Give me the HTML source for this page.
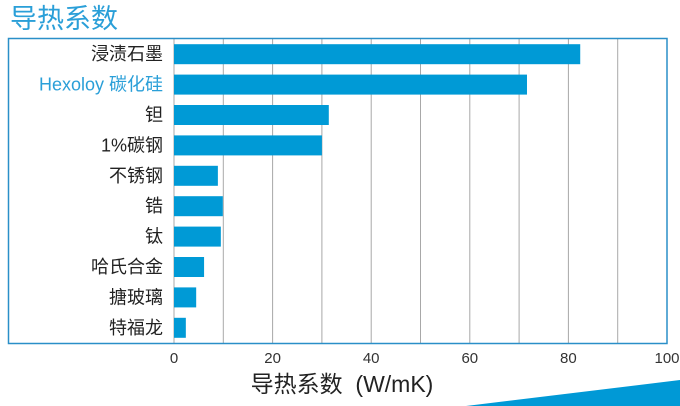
<!DOCTYPE html>
<html><head><meta charset="utf-8"><style>
html,body{margin:0;padding:0;background:#fff;width:680px;height:406px;overflow:hidden}
text{font-family:"Liberation Sans","Noto Sans CJK SC",sans-serif}
</style></head><body>
<svg id="chart" width="680" height="406">
<text x="10" y="28" font-size="27" fill="#2a9fd8">导热系数</text>
<polygon points="466,406 680,380 680,406" fill="#0099d6"/>
<g id="grid"></g><g id="bars"></g><g id="labels"></g><g id="ticks"></g>
<rect x="8.5" y="38.5" width="658.5" height="305" fill="none" stroke="#2a8fc8" stroke-width="1.5"/>
<text x="342" y="392" font-size="23" fill="#222" text-anchor="middle">导热系数&#160;&#160;(W/mK)</text>
</svg>
<script>
const categories=["浸渍石墨","Hexoloy 碳化硅","钽","1%碳钢","不锈钢","锆","钛","哈氏合金","搪玻璃","特福龙"];
const values=[82.4,71.6,31.4,30,8.9,9.9,9.5,6.1,4.5,2.4];
const tickLabels=[0,20,40,60,80,100];
const gridValues=[10,20,30,40,50,60,70,80,90];
const NS="http://www.w3.org/2000/svg";
const x0=174,x1=667,plotTop=39,plotBottom=343;
const xs=v=>x0+(v/100)*(x1-x0);
const rowH=(plotBottom-plotTop)/categories.length;
const ys=i=>plotTop+rowH*(i+0.5);
function mk(t,a,p){const e=document.createElementNS(NS,t);for(const k in a)e.setAttribute(k,a[k]);p.appendChild(e);return e;}
const G=document.getElementById('grid'),B=document.getElementById('bars'),L=document.getElementById('labels'),T=document.getElementById('ticks');
gridValues.forEach(v=>{const l=mk('line',{x1:xs(v),x2:xs(v),y1:plotTop,y2:plotBottom,stroke:'#a8a8a8','stroke-width':1},G);

});
const ax=mk('line',{x1:x0,x2:x0,y1:plotTop,y2:plotBottom,stroke:'#a8a8a8','stroke-width':1},G);


categories.forEach((c,i)=>{
const r=mk('rect',{x:x0,y:ys(i)-10,width:xs(values[i])-x0,height:20,fill:'#009ad6'},B);


const t=mk('text',{x:163,y:ys(i)+6,'font-size':18,'text-anchor':'end',fill:i===1?'#2a9fd8':'#222'},L);
t.textContent=c;


});
tickLabels.forEach(v=>{const t=mk('text',{x:xs(v),y:363,'font-size':15,'text-anchor':'middle',fill:'#333'},T);
t.textContent=v;

});
</script>
</body></html>
